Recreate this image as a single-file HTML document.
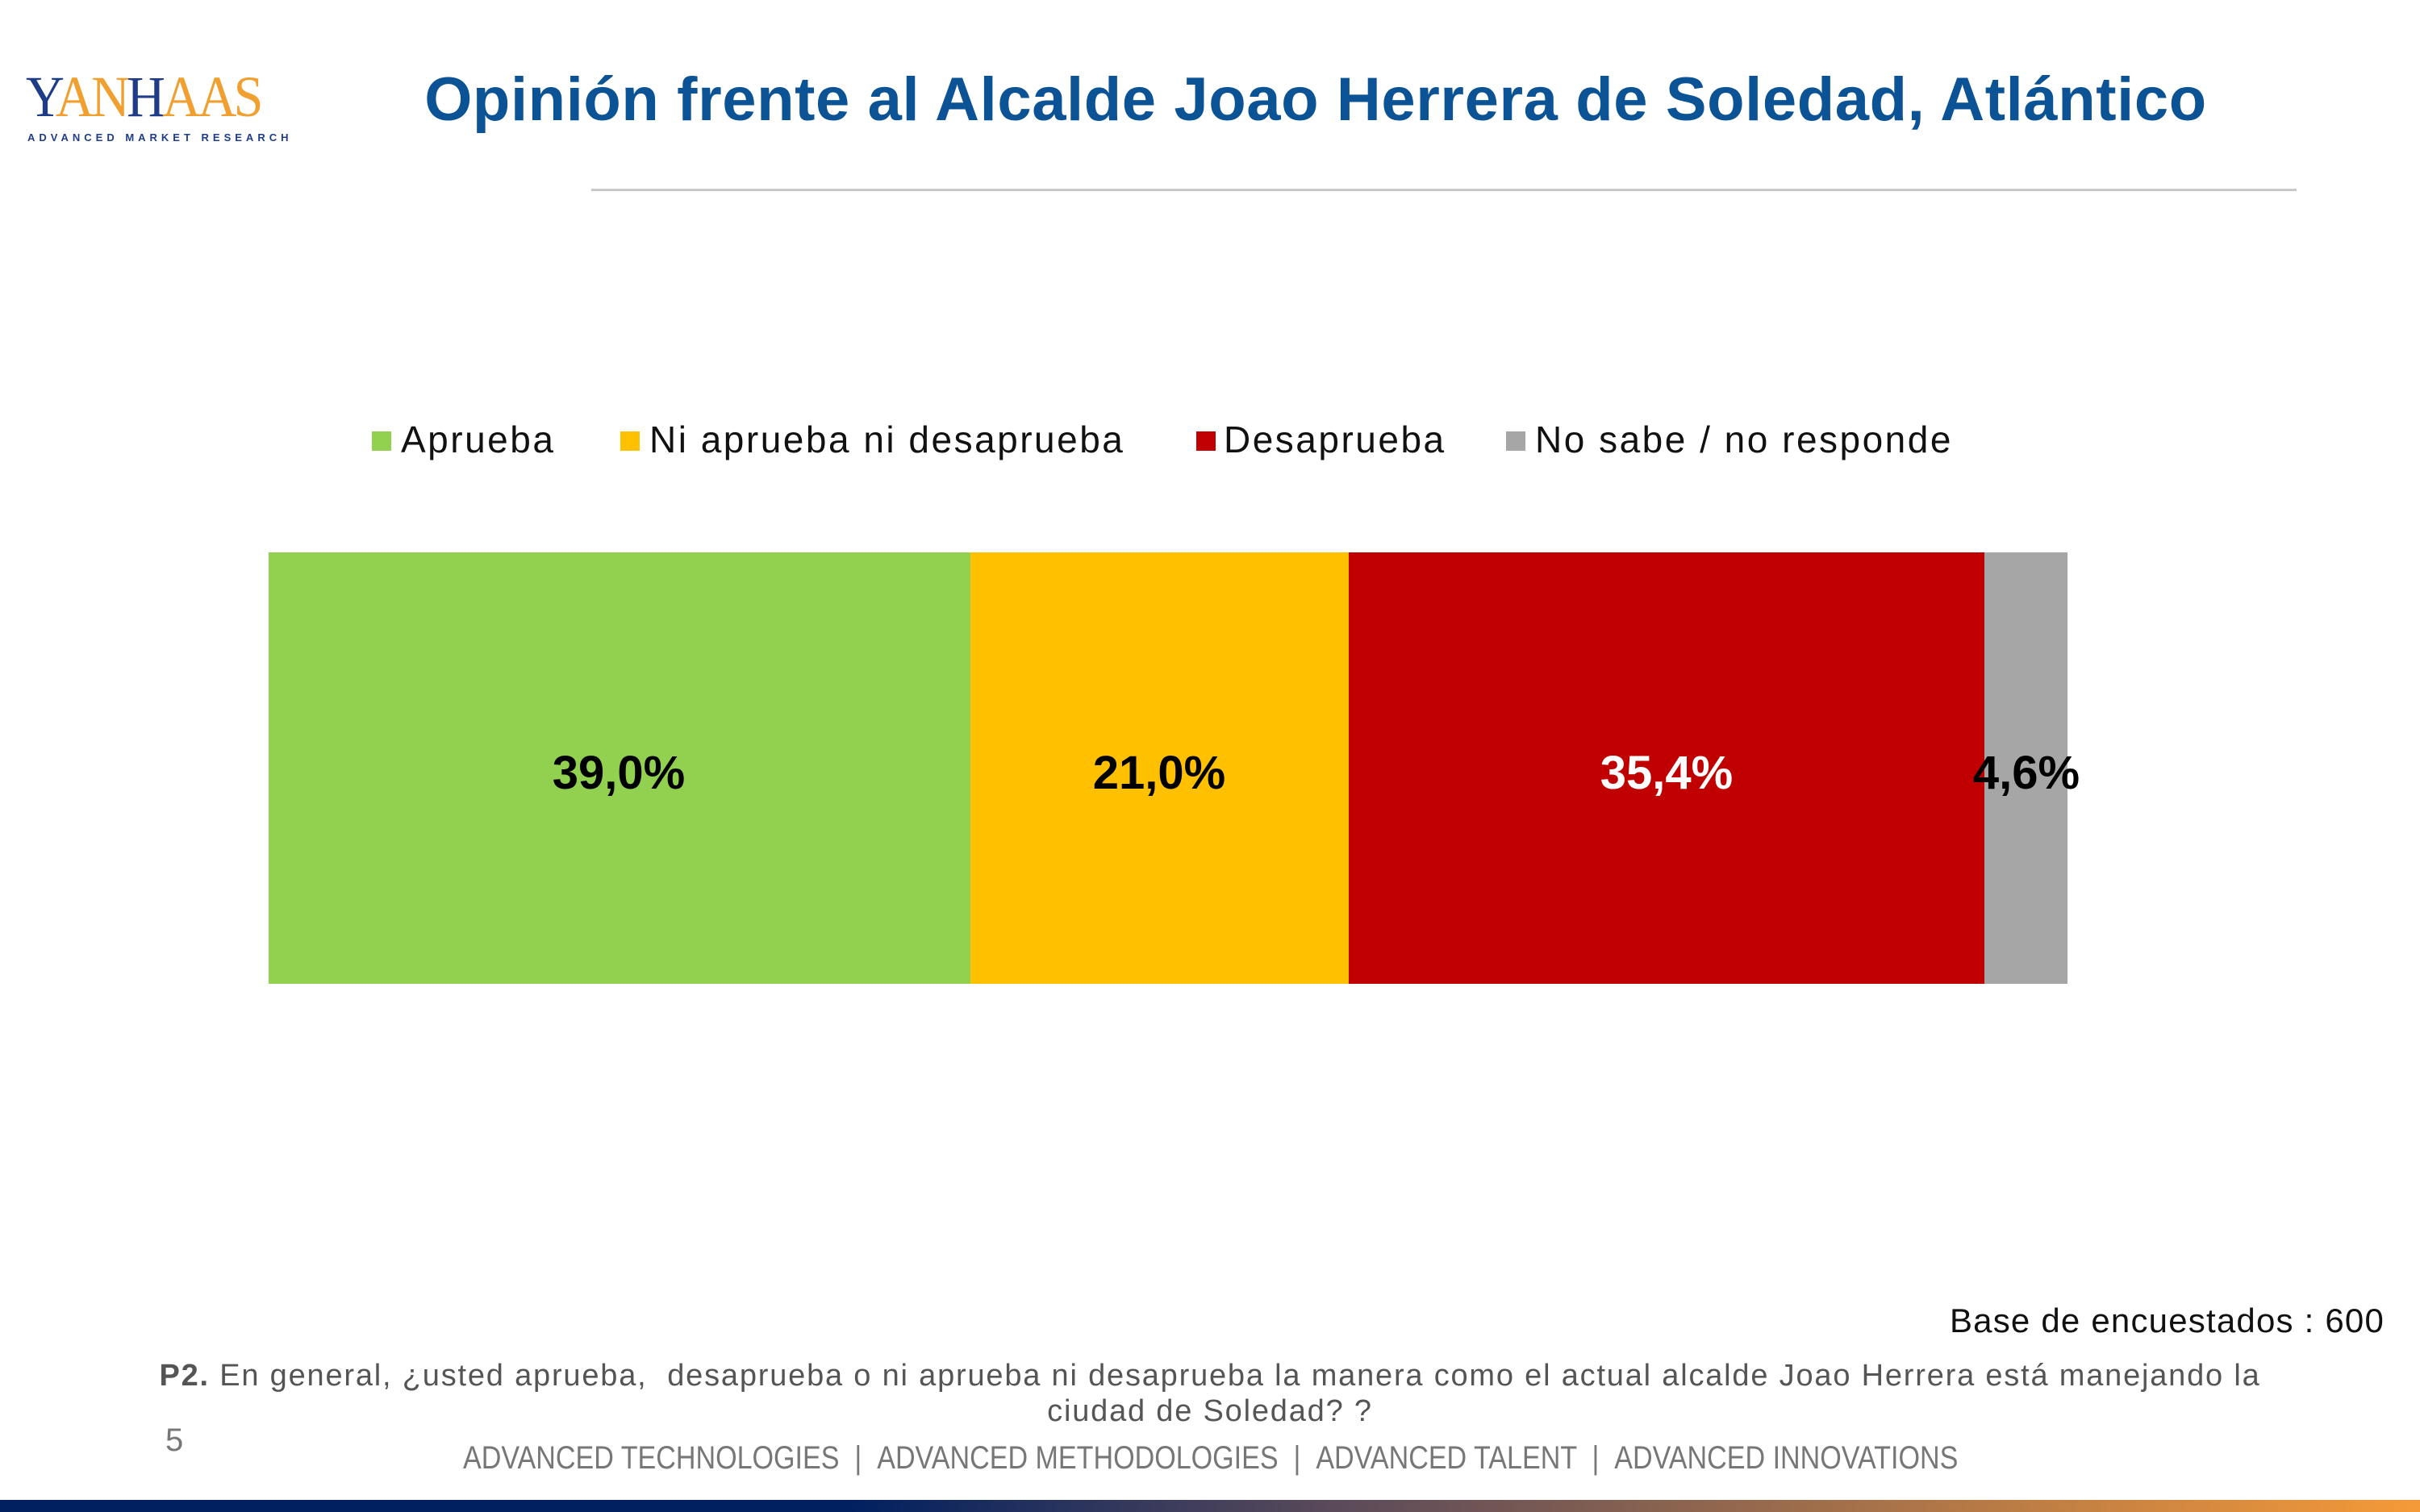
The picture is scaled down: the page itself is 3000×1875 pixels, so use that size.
<!DOCTYPE html>
<html><head><meta charset="utf-8"><style>
body{margin:0;width:3000px;height:1875px;position:relative;background:#fff;font-family:"Liberation Sans",sans-serif;overflow:hidden}
.a{position:absolute;white-space:nowrap}
.sq{position:absolute;width:24px;height:24px;top:535px}
.lg{position:absolute;top:518px;font-size:46px;color:#111;letter-spacing:2.5px}
.bar{position:absolute;top:685px;height:535px}
.v{position:absolute;top:925px;font-size:58px;font-weight:bold;transform:translateX(-50%)}
</style></head><body>
<div class="a" style="left:32px;top:84px;font-size:72px;letter-spacing:-4px;font-family:'Liberation Serif',serif;line-height:72px;transform-origin:0 0;transform:scaleX(0.92)"><span style="color:#1f3c88">Y</span><span style="color:#f0a030">AN</span><span style="color:#1f3c88">H</span><span style="color:#f0a030">AAS</span></div>
<div class="a" style="left:34px;top:163px;font-size:13px;letter-spacing:5px;color:#1f3c88;font-weight:bold">ADVANCED MARKET RESEARCH</div>
<div class="a" style="left:526px;top:80px;font-size:76px;font-weight:bold;color:#0b5394;width:2210px;text-align:center;letter-spacing:0.6px">Opinión frente al Alcalde Joao Herrera de Soledad, Atlántico</div>
<div class="a" style="left:733px;top:234px;width:2114px;height:3px;background:#c8c8c8"></div>
<div class="sq" style="left:461px;background:#92d050"></div><div class="lg" style="left:497px">Aprueba</div>
<div class="sq" style="left:769px;background:#ffc000"></div><div class="lg" style="left:805px">Ni aprueba ni desaprueba</div>
<div class="sq" style="left:1483px;background:#c00000"></div><div class="lg" style="left:1517px">Desaprueba</div>
<div class="sq" style="left:1867px;background:#a6a6a6"></div><div class="lg" style="left:1903px">No sabe / no responde</div>
<div class="bar" style="left:333px;width:870px;background:#92d050"></div>
<div class="bar" style="left:1203px;width:469px;background:#ffc000"></div>
<div class="bar" style="left:1672px;width:788px;background:#c00000"></div>
<div class="bar" style="left:2460px;width:103px;background:#a6a6a6"></div>
<div class="v" style="left:767px">39,0%</div>
<div class="v" style="left:1437px">21,0%</div>
<div class="v" style="left:2066px;color:#fff">35,4%</div>
<div class="v" style="left:2512px">4,6%</div>
<div class="a" style="right:44px;top:1614px;font-size:42px;color:#111;letter-spacing:1.2px">Base de encuestados : 600</div>
<div class="a" style="left:0;top:1684px;width:3000px;text-align:center;font-size:38px;color:#555;line-height:44px;white-space:normal;letter-spacing:1.8px"><b>P2.</b> En general, ¿usted aprueba,&nbsp; desaprueba o ni aprueba ni desaprueba la manera como el actual alcalde Joao Herrera está manejando la<br>ciudad de Soledad? ?</div>
<div class="a" style="left:205px;top:1764px;font-size:40px;color:#777">5</div>
<div class="a" style="left:574px;top:1786px;font-size:40px;color:#777;transform-origin:0 0;transform:scaleX(0.852)">ADVANCED TECHNOLOGIES &nbsp;| &nbsp;ADVANCED METHODOLOGIES &nbsp;| &nbsp;ADVANCED TALENT &nbsp;| &nbsp;ADVANCED INNOVATIONS</div>
<div class="a" style="left:0;top:1860px;width:3000px;height:15px;background:linear-gradient(90deg,#002060 0%,#002060 35%,#5a4a5a 55%,#f59a38 100%)"></div>
</body></html>
